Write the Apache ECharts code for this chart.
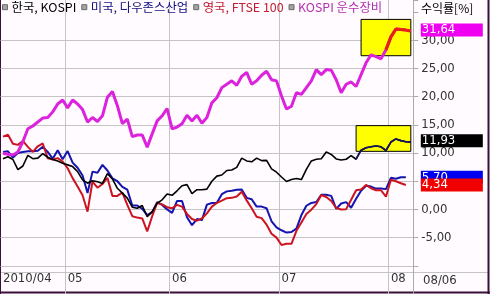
<!DOCTYPE html>
<html><head><meta charset="utf-8">
<script src="https://cdn.jsdelivr.net/npm/echarts@6/dist/echarts.min.js"></script>
<style>html,body{margin:0;padding:0;background:#fff;}#c{width:490px;height:294px;}</style>
</head><body><div id="c"></div><script>
// ---- data ----
const firstDay = '2010-04-14';
const lastDay = '2010-08-06';
const seriesNames = ['한국, KOSPI', '미국, 다우존스산업', '영국, FTSE 100', 'KOSPI 운수장비'];
const kospi = [9.0, 9.35, 8.85, 7.05, 7.7, 9.6, 9.0, 9.1, 9.9, 9.25,
  8.85, 8.6, 8.2, 7.9, 7.6, 6.7, 5.25, 4.65, 5.1, 4.9,
  4.6, 6.35, 5.4, 3.75, 2.9, 2.0, 0.4, 0.2, 0.7, -1.3,
  -0.4, 1.1, 1.7, 2.75, 2.5, 3.3, 4.2, 4.4, 2.8, 3.5,
  3.5, 3.6, 5.0, 5.9, 6.1, 6.9, 7.0, 7.45, 9.1, 8.6,
  8.45, 9.1, 8.65, 8.7, 7.2, 6.6, 5.75, 4.95, 5.3, 5.5,
  5.3, 7.1, 8.6, 8.9, 9.0, 10.2, 9.75, 8.95, 8.75, 8.9,
  9.55, 8.9, 10.5, 10.95, 11.1, 11.25, 11.1, 10.45, 11.95, 12.5,
  12.2, 12.0, 11.93];
const dow = [10.2, 10.3, 9.2, 10.0, 10.2, 10.3, 10.3, 10.4, 11.1, 10.2,
  9.0, 10.5, 8.9, 10.35, 8.3, 7.4, 6.0, 2.9, 6.7, 6.5,
  7.9, 6.9, 5.5, 5.0, 4.0, 3.5, 0.7, 0.7, 0.1, -1.0,
  -0.5, 1.3, 0.8, 0.0, -0.6, 1.5, 1.5, -1.4, -2.8, -1.7,
  -1.9, 0.85, 1.15, 1.2, 2.7, 3.2, 3.3, 3.5, 3.55, 2.05,
  1.8, 0.5, 0.5, 0.2, -2.1, -3.2, -3.7, -4.1, -4.0, -3.4,
  -1.0, 0.65, 1.15, 1.3, 2.6, 2.6, 2.4, 0.1, 1.05, 1.3,
  0.3, 1.9, 3.3, 4.2, 4.05, 3.7, 3.7, 3.6, 5.6, 5.45,
  5.7, 5.7];
const ftse = [12.9, 13.25, 11.65, 11.45, 12.15, 11.1, 10.2, 11.2, 11.7, 9.05,
  8.85, 9.1, 8.5, 7.3, 5.55, 4.05, 2.5, -0.4, 4.95, 3.85,
  4.5, 5.6, 2.4, 2.4, 3.0, 0.8, -1.2, -1.45, -1.6, -3.9,
  -1.2, 1.15, 0.9, 0.4, 0.2, 0.8, 0.5, -0.8, -1.7, -2.0,
  -1.6, -0.7, 0.5, 1.15, 1.55, 2.0, 2.05, 2.3, 3.15, 1.6,
  0.2, -1.3, -1.55, -2.7, -4.3, -5.0, -6.3, -6.1, -6.1, -3.8,
  -2.3, -0.8, -0.05, 0.95, 2.55, 2.2, 1.5, 0.25, 0.0, 0.05,
  1.7, 3.4, 3.55, 4.35, 3.75, 3.4, 3.4, 2.25, 5.25, 5.0,
  4.65, 4.34];
const transport = [9.95, 9.8, 9.65, 10.2, 12.0, 14.3, 14.8, 15.5, 16.2, 16.3,
  17.3, 18.7, 19.4, 18.0, 19.4, 18.7, 17.7, 15.5, 16.3, 15.6,
  16.6, 19.9, 20.9, 18.4, 15.2, 16.0, 12.9, 13.2, 13.2, 11.05,
  13.4, 15.7, 16.6, 17.9, 14.3, 14.6, 15.2, 16.7, 15.7, 16.7,
  15.3, 16.3, 18.9, 19.8, 21.6, 22.2, 22.8, 22.0, 23.6, 24.3,
  22.2, 22.8, 23.8, 24.5, 23.0, 22.8, 20.1, 17.8, 18.3, 20.7,
  20.4, 21.6, 22.8, 24.8, 23.9, 24.8, 24.7, 23.0, 20.7, 22.2,
  22.6, 21.8, 23.9, 26.0, 27.4, 27.1, 26.7, 28.3, 30.6, 32.0,
  31.9, 31.8, 31.64];
// highlight boxes [startIndex, endIndex, topValue, bottomValue]
const boxTransport = [72, 82, 33.7, 27.26];
const boxKospi = [71, 82, 14.86, 10.3];
// index from which the highlighted colour of the line starts
const hiTransportFrom = 77;
const hiKospiFrom = 71;
const yTitle = '수익률[%]';

// ---- trading-day categories (weekdays) ----
const dates = [];
(function () {
  const s = Date.parse(firstDay + 'T00:00:00Z'), e = Date.parse(lastDay + 'T00:00:00Z');
  for (let t = s; t <= e; t += 86400000) {
    const d = new Date(t), w = d.getUTCDay();
    if (w === 0 || w === 6) continue;
    dates.push(d.getUTCFullYear() + '/' + String(d.getUTCMonth() + 1).padStart(2, '0') + '/' + String(d.getUTCDate()).padStart(2, '0'));
  }
})();
const monthStart = new Set([0]);
for (let i = 1; i < dates.length; i++) if (dates[i].slice(5, 7) !== dates[i - 1].slice(5, 7)) monthStart.add(i);

const numFont = "'Liberation Sans Narrow', 'DejaVu Sans Condensed', 'Liberation Sans', sans-serif";
const krFont = "'Noto Sans CJK KR', 'Noto Sans', sans-serif";
const fmt = v => Number(Array.isArray(v) ? v[v.length - 1] : v).toFixed(2).replace('.', ',');
const tag = (bg, dist, off) => ({
  show: true, distance: dist, offset: [0, off], formatter: p => fmt(p.value),
  color: '#fff', backgroundColor: bg, fontFamily: numFont, fontSize: 13,
  width: 61, height: 13, lineHeight: 13, padding: [0, 0, 0, 1], align: 'left', verticalAlign: 'middle'
});
const box = b => ({
  silent: true,
  itemStyle: { color: '#ffff00', borderColor: '#000', borderWidth: 1, opacity: 1 },
  data: [[{ xAxis: dates[b[0]], yAxis: b[2] }, { xAxis: dates[b[1]], yAxis: b[3] }]]
});
const from = (arr, k) => arr.map((v, i) => i >= k ? v : null);
const G = '#c4c4c4', T = 'rgba(0,0,0,0)';

const chart = echarts.init(document.getElementById('c'));
chart.setOption({
  animation: false,
  backgroundColor: '#fffbfe',
  grid: { left: -1.7, right: 76.7, top: 0, bottom: -3.2, containLabel: false },
  legend: {
    left: 2, top: 1, padding: 0, itemGap: 5, itemWidth: 5, itemHeight: 5, icon: 'rect',
    selectedMode: false,
    itemStyle: { color: '#a4a4a4', borderColor: '#6a6a6a', borderWidth: 1 },
    textStyle: { fontSize: 12.4, fontFamily: krFont, padding: [0, 0, 0, -1] },
    data: [
      { name: seriesNames[0], textStyle: { color: '#000000' } },
      { name: seriesNames[1], textStyle: { color: '#101080' } },
      { name: seriesNames[2], textStyle: { color: '#c02030' } },
      { name: seriesNames[3], textStyle: { color: '#b030b0' } }
    ]
  },
  xAxis: {
    type: 'category', data: dates, boundaryGap: true,
    axisLine: { show: false }, axisTick: { show: false },
    axisLabel: {
      inside: true, margin: 9, align: 'left', color: '#333', fontFamily: numFont, fontSize: 13,
      interval: i => monthStart.has(i),
      formatter: (v, i) => i === 0 ? v.slice(0, 7) : v.slice(5, 7)
    },
    splitLine: { show: true, interval: i => i > 0 && monthStart.has(i), lineStyle: { color: G, width: 1 } }
  },
  yAxis: {
    type: 'value', position: 'right', min: -15, max: 37.14, interval: 5,
    axisLine: { show: true, lineStyle: { color: '#aaaaaa' } },
    axisTick: { show: true, length: 5, lineStyle: { color: '#aaaaaa' } },
    axisLabel: {
      margin: 8, color: '#333', fontFamily: numFont, fontSize: 13,
      formatter: v => (v < -7 || v > 32) ? '' : v.toFixed(2).replace('.', ',')
    },
    splitLine: { show: true, lineStyle: { color: [T, G, G, G, G, G, G, G, G, G, T, T], width: 1 } }
  },
  series: [
    { name: seriesNames[0], type: 'line', data: kospi, symbol: 'none', z: 4,
      lineStyle: { width: 1.6, color: '#000' }, itemStyle: { color: '#000' },
      endLabel: tag('#000000', 10, -1.5), markArea: box(boxKospi) },
    { name: seriesNames[1], type: 'line', data: dow, symbol: 'none', z: 3,
      lineStyle: { width: 2, color: '#1414b0' }, itemStyle: { color: '#1414b0' },
      endLabel: tag('#0000f0', 15, 0) },
    { name: seriesNames[2], type: 'line', data: ftse, symbol: 'none', z: 3,
      lineStyle: { width: 2, color: '#cc1420' }, itemStyle: { color: '#cc1420' },
      endLabel: tag('#f00000', 15, 0) },
    { name: seriesNames[3], type: 'line', data: transport, symbol: 'none', z: 4,
      lineStyle: { width: 3, color: '#dd22dd' }, itemStyle: { color: '#dd22dd' },
      endLabel: tag('#f000f0', 10, -1), markArea: box(boxTransport) },
    { name: 'kospi-hi', type: 'line', data: from(kospi, hiKospiFrom), symbol: 'none', z: 5,
      lineStyle: { width: 1.6, color: '#141464' }, silent: true },
    { name: 'transport-hi', type: 'line', data: from(transport, hiTransportFrom), symbol: 'none', z: 5,
      lineStyle: { width: 3, color: '#e8200e' }, silent: true }
  ],
  graphic: [
    { type: 'text', left: 421, top: 2, style: { text: yTitle, fill: '#000', font: "12px " + krFont } },
    { type: 'text', left: 423, top: 274, style: { text: dates[dates.length - 1].slice(5), fill: '#333', font: "13px " + numFont } },
    { type: 'line', shape: { x1: 0, y1: 272.5, x2: 488, y2: 272.5 }, style: { stroke: G, lineWidth: 1 }, silent: true },
    { type: 'line', shape: { x1: 0.5, y1: 0, x2: 0.5, y2: 294 }, style: { stroke: '#3a1038', lineWidth: 1 }, silent: true },
    { type: 'line', shape: { x1: 488.5, y1: 0, x2: 488.5, y2: 294 }, style: { stroke: '#3a1038', lineWidth: 2 }, silent: true },
    { type: 'line', shape: { x1: 0, y1: 292.5, x2: 490, y2: 292.5 }, style: { stroke: '#3a1038', lineWidth: 2 }, silent: true }
  ]
});
</script></body></html>
